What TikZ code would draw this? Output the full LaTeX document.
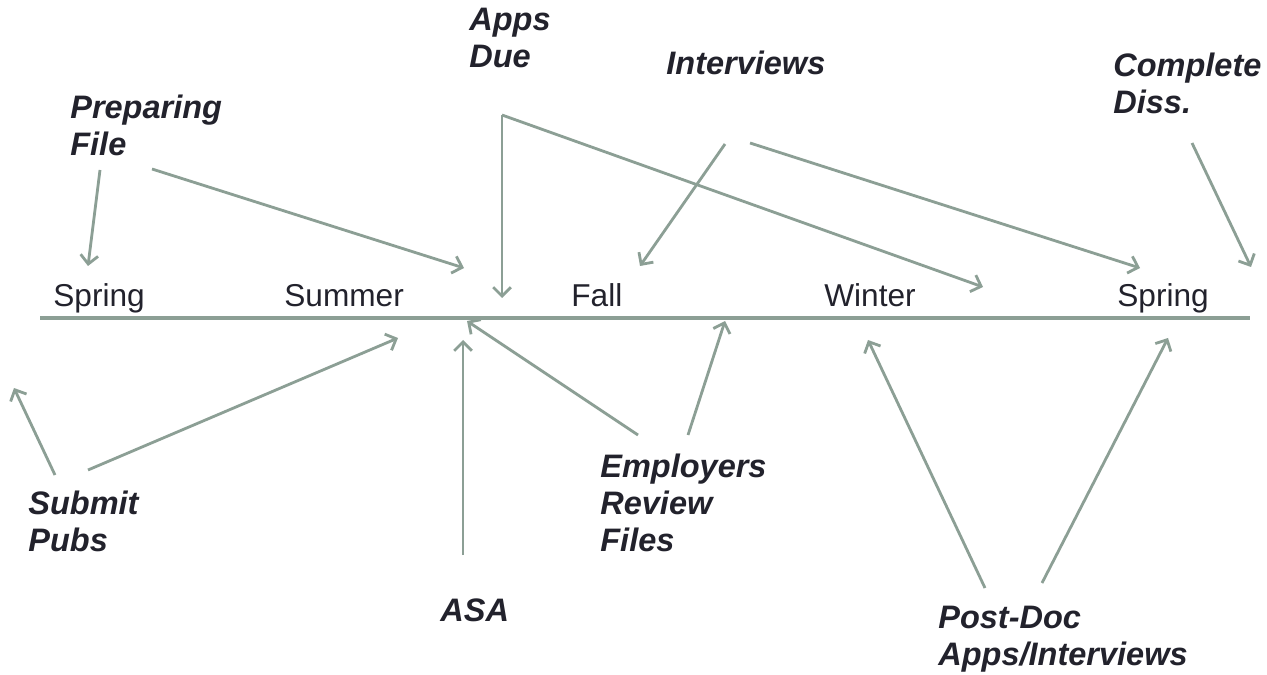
\documentclass[tikz,border=0pt]{standalone}
\usepackage{fontspec}
\setmainfont{Liberation Sans}
\usetikzlibrary{arrows.meta}
\definecolor{linec}{RGB}{140,159,149}
\definecolor{textc}{RGB}{34,34,44}
\tikzstyle{timeline} = [
  x=0.02cm,
  y=-0.02cm,
  font=\fontsize{18}{21}\selectfont,
  text=textc,
]
\tikzstyle{season} = [anchor=base west, inner sep=0pt]
\tikzstyle{event} = [
  anchor=west,
  inner sep=0pt,
  align=left,
  font=\fontsize{18.5}{21}\selectfont\bfseries\itshape,
]
\tikzstyle{pointer} = [
  draw=linec,
  line width=1.6pt,
  -{Straight Barb[length=5pt,width=10pt]},
]

\begin{document}
\begin{tikzpicture}[timeline]
      \useasboundingbox (0,0) rectangle (1267,675);

      % Timeline
      \coordinate (start) at (40,318);
      \coordinate (end) at (1250,318);
      \draw[linec, line width=2.4pt] (start) -- (end);

      % Seasons
      \node[season] (spring) at (53,307) {Spring};
      \node[season] (summer) at (284,307) {Summer};
      \node[season] (fall) at (571,307) {Fall};
      \node[season] (winter) at (824,307) {Winter};
      \node[season] (spring2) at (1117,307) {Spring};

      % Labels
      \node[event] (prep) at (70,125) {Preparing\\File};
      \node[event] (apps) at (469,38) {Apps\\Due};
      \node[event] (interv) at (666,63) {Interviews};
      \node[event] (diss) at (1113,83) {Complete\\Diss.};
      \node[event] (pubs) at (28,521) {Submit\\Pubs};
      \node[event] (asa) at (440,610) {ASA};
      \node[event] (empl) at (600,503) {Employers\\Review\\Files};
      \node[event] (postdoc) at (938,639) {Post-Doc\\Apps/Interviews};

      % Arrow ends
      \coordinate (prep-a) at (100,170);
      \coordinate (prep-b) at (152,169);
      \coordinate (apps-a) at (502,115);
      \coordinate (interv-a) at (725,144);
      \coordinate (interv-b) at (750,143);
      \coordinate (diss-a) at (1192,143);
      \coordinate (pubs-a) at (55,475);
      \coordinate (pubs-b) at (88,470);
      \coordinate (asa-a) at (463,555);
      \coordinate (empl-a) at (638,435);
      \coordinate (empl-b) at (688,435);
      \coordinate (postdoc-a) at (985,588);
      \coordinate (postdoc-b) at (1042,583);

      \coordinate (spring-top) at (88,266);
      \coordinate (summer-end) at (464,268);
      \coordinate (fall-start) at (502,298);
      \coordinate (fall-top) at (640,266);
      \coordinate (winter-end) at (983,287);
      \coordinate (spring2-top) at (1140,268);
      \coordinate (spring2-end) at (1251,267);
      \coordinate (spring-low) at (14,388);
      \coordinate (summer-low) at (398,338);
      \coordinate (fall-low) at (463,340);
      \coordinate (fall-mark) at (467,321);
      \coordinate (fall-end) at (725,321);
      \coordinate (winter-low) at (868,340);
      \coordinate (spring2-low) at (1168,338);

      % Arrows
      \draw[pointer] (prep-a) -- (spring-top);
      \draw[pointer] (prep-b) -- (summer-end);
      \draw[pointer] (apps-a) -- (fall-start);
      \draw[pointer] (apps-a) -- (winter-end);
      \draw[pointer] (interv-a) -- (fall-top);
      \draw[pointer] (interv-b) -- (spring2-top);
      \draw[pointer] (diss-a) -- (spring2-end);
      \draw[pointer] (pubs-a) -- (spring-low);
      \draw[pointer] (pubs-b) -- (summer-low);
      \draw[pointer] (asa-a) -- (fall-low);
      \draw[pointer] (empl-a) -- (fall-mark);
      \draw[pointer] (empl-b) -- (fall-end);
      \draw[pointer] (postdoc-a) -- (winter-low);
      \draw[pointer] (postdoc-b) -- (spring2-low);
    \end{tikzpicture}
\end{document}
